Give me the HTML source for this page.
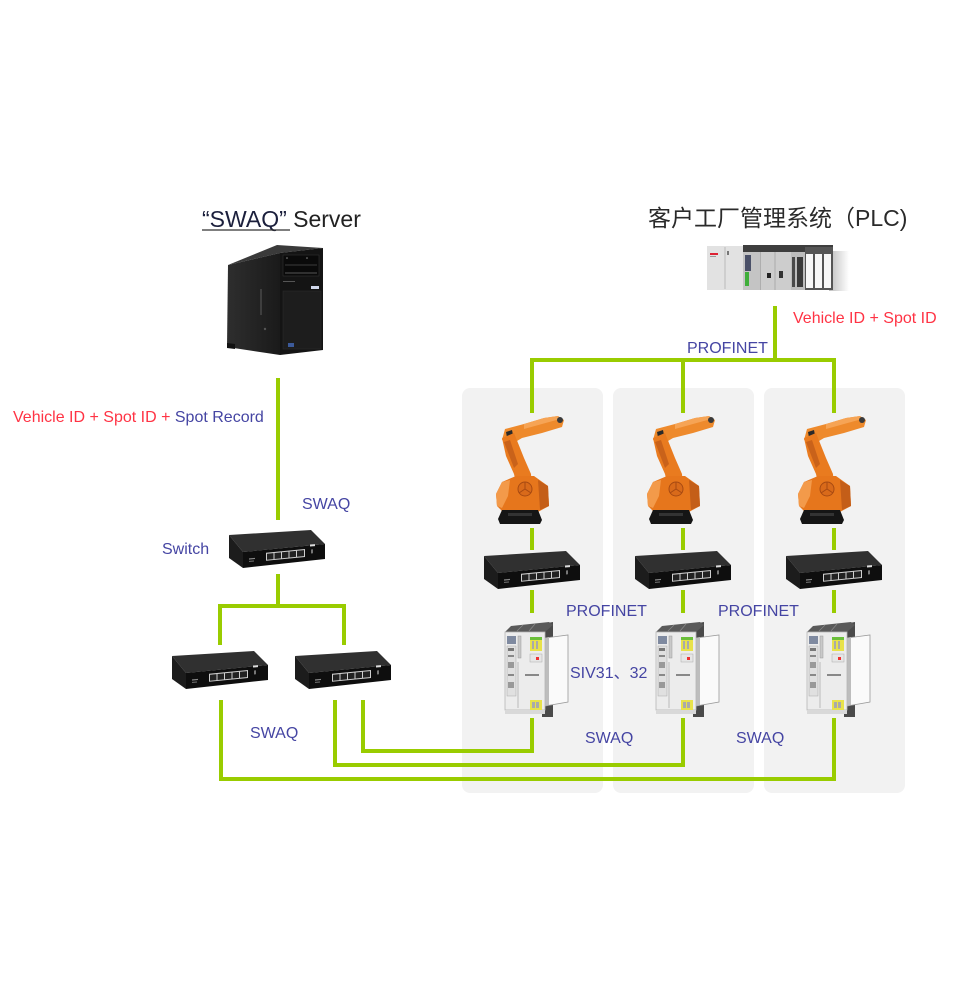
<!DOCTYPE html>
<html><head><meta charset="utf-8"><style>
html,body{margin:0;padding:0;background:#fff;}
svg{display:block;}
text{font-family:"Liberation Sans","Noto Sans CJK SC",sans-serif;}
</style></head><body>
<svg width="968" height="998" viewBox="0 0 968 998" xmlns="http://www.w3.org/2000/svg">
<defs>
  <linearGradient id="srvSide" x1="0" y1="0" x2="1" y2="0">
    <stop offset="0" stop-color="#2e2e2e"/><stop offset="1" stop-color="#1a1a1a"/>
  </linearGradient>
  <linearGradient id="plcShadow" x1="0" y1="0" x2="1" y2="0">
    <stop offset="0" stop-color="#bdbdbd"/><stop offset="1" stop-color="#ffffff"/>
  </linearGradient>
  <g id="sw">
    <polygon points="0,5 82,0 96,14 14,22" fill="#303030"/>
    <polygon points="0,5 14,22 14,38 0,28" fill="#1c1c1c"/>
    <polygon points="14,22 96,14 96,29 14,38" fill="#0e0e0e"/>
    <g transform="translate(14,22) skewY(-5.5)">
      <rect x="23" y="3" width="39" height="8" fill="#cfcfcf"/>
      <rect x="24" y="4" width="6.5" height="6" fill="#222"/>
      <rect x="31.5" y="4" width="6.5" height="6" fill="#222"/>
      <rect x="39" y="4" width="6.5" height="6" fill="#222"/>
      <rect x="46.5" y="4" width="6.5" height="6" fill="#222"/>
      <rect x="54" y="4" width="7" height="6" fill="#222"/>
      <rect x="67" y="-1" width="5" height="2" fill="#ddd"/>
      <rect x="68" y="4" width="2" height="4" fill="#777"/>
      <rect x="6" y="7" width="6" height="1.2" fill="#888"/>
      <rect x="6" y="9.5" width="5" height="1" fill="#777"/>
    </g>
  </g>
  <g id="robot">
    <!-- forearm -->
    <polygon points="8,24 11,13 30,8 50,2 64,0 70,4 68,11 48,17 28,22 18,28" fill="#ee8a2c"/>
    <polygon points="30,8 50,2 64,0 66,3 48,8 30,13" fill="#f6a455"/>
    <polygon points="12,16 18,14 20,24 14,27" fill="#2a2a2a"/>
    <circle cx="66" cy="4" r="3" fill="#3a3a3a"/>
    <!-- lower arm -->
    <polygon points="8,22 20,17 30,42 37,58 38,72 24,76 20,58 12,40" fill="#e97b1f"/>
    <polygon points="10,26 16,24 24,48 20,52" fill="#c9621a"/>
    <!-- turret -->
    <polygon points="2,78 8,66 22,60 40,60 54,70 55,90 42,97 10,97 3,90" fill="#e6761c"/>
    <polygon points="2,78 8,66 16,64 14,80 8,92 3,90" fill="#f39a4a"/>
    <polygon points="44,64 54,70 55,90 46,94" fill="#c45e18"/>
    <circle cx="31" cy="73" r="7" fill="#d96a1a" stroke="#a84a12" stroke-width="1"/>
    <path d="M31,66 L31,73 M25,77 L31,73 L37,77" stroke="#a84a12" stroke-width="1" fill="none"/>
    <!-- base -->
    <polygon points="8,94 44,94 48,104 46,108 6,108 4,103" fill="#151515"/>
    <rect x="14" y="97" width="24" height="3" fill="#333"/>
  </g>
  <g id="ctrl">
    <!-- back dark plate -->
    <polygon points="39,2 50,0 50,95 39,95" fill="#4a4a4a"/>
    <!-- heatsink box -->
    <polygon points="42,16 65,13 65,80 42,84" fill="#fafafa" stroke="#9a9a9a" stroke-width="0.8"/>
    <polygon points="42,16 46,15 46,83 42,84" fill="#bdbdbd"/>
    <!-- top -->
    <polygon points="2,10 8,4 46,0 50,3 42,10" fill="#5a5a5a"/>
    <line x1="14" y1="9" x2="20" y2="3" stroke="#888" stroke-width="0.8"/>
    <line x1="26" y1="9" x2="32" y2="2" stroke="#888" stroke-width="0.8"/>
    <!-- front body -->
    <rect x="2" y="10" width="40" height="78" fill="#ececec" stroke="#b5b5b5" stroke-width="0.8"/>
    <rect x="2" y="88" width="40" height="4" fill="#d9d9d9"/>
    <rect x="4" y="14" width="9" height="8" fill="#7f8aa0"/>
    <rect x="4" y="24" width="9" height="50" fill="#e0e0e0" stroke="#aaa" stroke-width="0.5"/>
    <rect x="5" y="26" width="6" height="3" fill="#777"/>
    <rect x="5" y="33" width="6" height="2" fill="#888"/>
    <rect x="5" y="40" width="6" height="6" fill="#999"/>
    <rect x="5" y="52" width="6" height="2" fill="#888"/>
    <rect x="5" y="60" width="6" height="6" fill="#999"/>
    <rect x="15" y="14" width="3" height="22" fill="#c9c9c9" stroke="#999" stroke-width="0.5"/>
    <line x1="15" y1="40" x2="15" y2="86" stroke="#999" stroke-width="0.6"/>
    <rect x="27" y="15" width="12" height="14" fill="#e8e24a"/>
    <rect x="27" y="15" width="12" height="3" fill="#6bbf3a"/>
    <rect x="29" y="19" width="2" height="8" fill="#aaa"/>
    <rect x="33" y="19" width="2" height="8" fill="#aaa"/>
    <rect x="27" y="32" width="12" height="8" fill="#e6e6e6" stroke="#aaa" stroke-width="0.5"/>
    <rect x="33" y="35" width="3" height="3" fill="#e33"/>
    <rect x="22" y="52" width="14" height="2" fill="#888"/>
    <rect x="27" y="78" width="12" height="10" fill="#e8e24a"/>
    <rect x="29" y="80" width="3" height="6" fill="#aaa"/>
    <rect x="33" y="80" width="3" height="6" fill="#aaa"/>
  </g>
</defs>

<!-- panels -->
<rect x="462" y="388" width="141" height="405" rx="8" fill="#f2f2f2"/>
<rect x="613" y="388" width="141" height="405" rx="8" fill="#f2f2f2"/>
<rect x="764" y="388" width="141" height="405" rx="8" fill="#f2f2f2"/>

<!-- green lines -->
<g stroke="#99cc00" stroke-width="4" fill="none" stroke-linecap="butt" stroke-linejoin="miter">
  <!-- PLC bus -->
  <polyline points="775,306 775,360 532,360 532,413"/>
  <line x1="683" y1="360" x2="683" y2="413"/>
  <polyline points="775,360 834,360 834,413"/>
  <!-- panel verticals -->
  <line x1="532" y1="528" x2="532" y2="550"/>
  <line x1="683" y1="528" x2="683" y2="550"/>
  <line x1="834" y1="528" x2="834" y2="550"/>
  <line x1="532" y1="590" x2="532" y2="613"/>
  <line x1="683" y1="590" x2="683" y2="613"/>
  <line x1="834" y1="590" x2="834" y2="613"/>
  <!-- server -->
  <line x1="278" y1="378" x2="278" y2="520"/>
  <line x1="278" y1="574" x2="278" y2="606"/>
  <polyline points="220,645 220,606 344,606 344,645"/>
  <!-- bottom -->
  <polyline points="221,700 221,779 834,779 834,718"/>
  <polyline points="335,700 335,765 683,765 683,718"/>
  <polyline points="363,700 363,751 532,751 532,718"/>
</g>

<!-- server -->
<g transform="translate(225,243)">
  <polygon points="3,22 52,2 98,5 55,10" fill="#3a3a3a"/>
  <polygon points="3,22 55,10 55,112 2,104" fill="url(#srvSide)"/>
  <polygon points="55,10 98,5 98,107 55,112" fill="#141414"/>
  <rect x="58" y="12" width="36" height="21" fill="#0a0a0a" stroke="#333" stroke-width="0.6"/>
  <line x1="60" y1="22" x2="92" y2="22" stroke="#3c3c3c" stroke-width="1"/>
  <line x1="60" y1="30" x2="92" y2="30" stroke="#555" stroke-width="1"/>
  <circle cx="62" cy="15" r="0.8" fill="#888"/>
  <circle cx="82" cy="15" r="0.8" fill="#888"/>
  <rect x="58" y="38" width="12" height="1" fill="#555"/>
  <rect x="86" y="43" width="8" height="3" fill="#cfd6ea"/>
  <rect x="58" y="48" width="38" height="58" fill="#1d1d1d" stroke="#2c2c2c" stroke-width="0.6"/>
  <rect x="63" y="100" width="6" height="4" fill="#3c5a9a"/>
  <line x1="36" y1="46" x2="36" y2="72" stroke="#3e3e3e" stroke-width="2"/>
  <circle cx="40" cy="86" r="1.2" fill="#555"/>
  <polygon points="2,100 10,101 10,106 2,105" fill="#111"/>
</g>

<!-- PLC -->
<g transform="translate(707,245)">
  <rect x="122" y="6" width="20" height="40" fill="url(#plcShadow)"/>
  <rect x="0" y="1" width="126" height="44" fill="#d6d6d6"/>
  <rect x="0" y="1" width="36" height="44" fill="#e2e2e2"/>
  <rect x="3" y="8" width="8" height="2" fill="#d23"/>
  <rect x="3" y="11" width="6" height="1" fill="#999"/>
  <line x1="18" y1="2" x2="18" y2="44" stroke="#bbb" stroke-width="1"/>
  <rect x="20" y="6" width="2" height="4" fill="#777"/>
  <rect x="36" y="0" width="90" height="7" fill="#3e3e3e"/>
  <rect x="36" y="7" width="18" height="38" fill="#c4c4c4"/>
  <rect x="38" y="10" width="6" height="16" fill="#4a5068"/>
  <rect x="38" y="27" width="4" height="14" fill="#3fae3a"/>
  <line x1="54" y1="7" x2="54" y2="45" stroke="#999" stroke-width="1"/>
  <rect x="54" y="7" width="30" height="38" fill="#cdcdcd"/>
  <rect x="60" y="28" width="4" height="5" fill="#222"/>
  <rect x="72" y="26" width="4" height="7" fill="#333"/>
  <line x1="68" y1="7" x2="68" y2="45" stroke="#aaa" stroke-width="1"/>
  <rect x="84" y="7" width="14" height="38" fill="#bdbdbd"/>
  <rect x="85" y="12" width="3" height="30" fill="#4a4a4a"/>
  <rect x="90" y="12" width="6" height="30" fill="#3a3a3a"/>
  <rect x="98" y="2" width="9" height="43" fill="#555"/>
  <rect x="99" y="9" width="7" height="34" fill="#f7f7f7"/>
  <rect x="107" y="2" width="9" height="43" fill="#555"/>
  <rect x="108" y="9" width="7" height="34" fill="#f7f7f7"/>
  <rect x="116" y="2" width="10" height="43" fill="#555"/>
  <rect x="117" y="9" width="7" height="34" fill="#f7f7f7"/>
</g>

<!-- switches -->
<use href="#sw" x="229" y="530"/>
<use href="#sw" x="172" y="651"/>
<use href="#sw" x="295" y="651"/>
<use href="#sw" x="484" y="551"/>
<use href="#sw" x="635" y="551"/>
<use href="#sw" x="786" y="551"/>

<!-- robots -->
<use href="#robot" x="494" y="416"/>
<use href="#robot" x="645" y="416"/>
<use href="#robot" x="796" y="416"/>

<!-- controllers -->
<use href="#ctrl" x="503" y="622"/>
<use href="#ctrl" x="654" y="622"/>
<use href="#ctrl" x="805" y="622"/>

<!-- titles -->
<text x="202" y="227" font-size="23" fill="#1b1f3c">“SWAQ”<tspan fill="#222"> Server</tspan></text>
<line x1="202" y1="230" x2="290" y2="230" stroke="#333" stroke-width="1.3"/>
<text x="648" y="226" font-size="23" fill="#2a2a2a">客户工厂管理系统（PLC)</text>

<!-- labels -->
<g font-size="16">
  <text x="793" y="323" fill="#ff3344">Vehicle ID + Spot ID</text>
  <text x="687" y="353" fill="#4545a3">PROFINET</text>
  <text x="13" y="422" fill="#ff3344">Vehicle ID + Spot ID + <tspan fill="#4545a3">Spot Record</tspan></text>
  <text x="302" y="509" fill="#4545a3">SWAQ</text>
  <text x="162" y="554" fill="#4545a3">Switch</text>
  <text x="566" y="616" fill="#4545a3">PROFINET</text>
  <text x="718" y="616" fill="#4545a3">PROFINET</text>
  <text x="570" y="678" fill="#4545a3">SIV31、32</text>
  <text x="250" y="738" fill="#4545a3">SWAQ</text>
  <text x="585" y="743" fill="#4545a3">SWAQ</text>
  <text x="736" y="743" fill="#4545a3">SWAQ</text>
</g>
</svg>
</body></html>
